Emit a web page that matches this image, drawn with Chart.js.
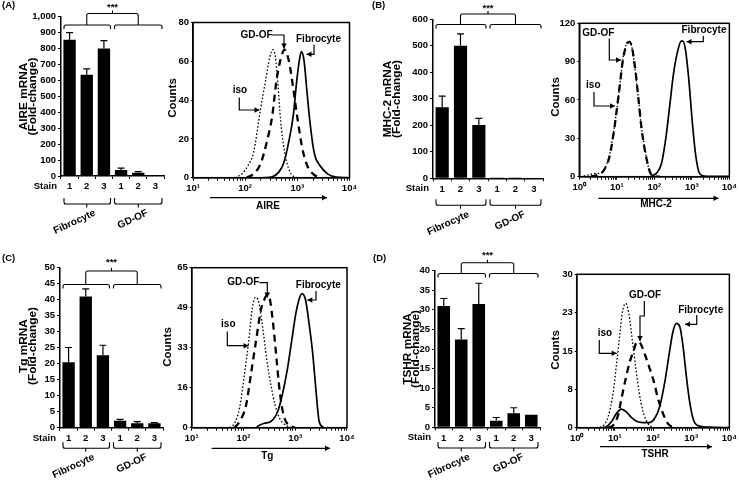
<!DOCTYPE html>
<html>
<head>
<meta charset="utf-8">
<script src="https://cdn.jsdelivr.net/npm/chart.js@4.4.1/dist/chart.umd.min.js"></script>
<style>
  body { margin: 0; background: #fff; width: 739px; height: 480px; overflow: hidden; position: relative; }
  .pane { position: absolute; left: 0; top: 0; width: 739px; height: 480px; }
</style>
</head>
<body>
<div class="pane"><canvas id="barA"></canvas></div>
<div class="pane"><canvas id="histA"></canvas></div>
<div class="pane"><canvas id="barB"></canvas></div>
<div class="pane"><canvas id="histB"></canvas></div>
<div class="pane"><canvas id="barC"></canvas></div>
<div class="pane"><canvas id="histC"></canvas></div>
<div class="pane"><canvas id="barD"></canvas></div>
<div class="pane"><canvas id="histD"></canvas></div>
<script>
// ── data ─────────────────────────────────────────
const stains = ['1', '2', '3', '1', '2', '3'];
const groups = ['Fibrocyte', 'GD-OF'];

// mRNA fold-change (mean) and upper error, per stain
const aireMrna = [855, 635, 800, 38, 20, 3];
const aireErr  = [45, 37, 50, 12, 8, 2];
const mhc2Mrna = [268, 500, 201, 0.5, 0.5, 2];
const mhc2Err  = [42, 45, 25, 0, 0, 0.5];
const tgMrna   = [20.4, 40.9, 22.6, 2.2, 1.4, 1.4];
const tgErr    = [4.6, 2.4, 3.1, 0.4, 0.5, 0.2];
const tshrMrna = [31.0, 22.4, 31.5, 1.7, 3.6, 3.2];
const tshrErr  = [1.9, 2.8, 5.3, 0.8, 1.4, 0.1];

// flow histograms [intensity, counts]
const aireIso = [[64,0],[87,2],[112,6],[145,13],[196,35],[246,50],[296,62],[340,66],[380,62],[425,48],[480,29],[555,15],[675,5],[870,0.5],[1150,0]];
const aireGd  = [[107,0],[145,2],[196,7],[263,19],[331,32],[398,50],[478,61],[570,66],[690,60],[835,46],[1000,31],[1250,15],[1560,6],[2100,1.5],[2800,0]];
const aireFib = [[225,0],[330,0.5],[445,3],[555,8],[690,19],[835,32],[975,50],[1100,61],[1200,65],[1350,60],[1510,46],[1740,29],[2100,13],[2750,6],[3800,2],[5500,0.3],[9300,0]];

const mhc2Iso = [[1.3,0.5],[1.7,1.3],[2.6,2.6],[3.5,2.6],[4.8,6.5],[6.5,18],[8.9,42],[11.6,68],[14.7,93],[18,104],[21,106],[24.5,103],[30,86],[37,63],[45,39],[59,18],[75,4],[96,0.5],[130,0]];
const mhc2Gd  = [[2,0],[3,1.5],[4.5,5],[6.3,15],[8.6,38],[11.3,65],[14.5,91],[18,103],[21.5,105.5],[25,102],[31,84],[38,60],[46,37],[60,16],[77,3.5],[100,0.5],[140,0]];
const mhc2Fib = [[83,0.5],[113,2.6],[154,10],[200,29],[256,55],[326,81],[425,99],[520,106],[575,106],[678,99],[830,76],[1020,44],[1250,18],[1600,2.6],[2170,0.5],[3000,0.3],[10000,0.3]];

const tgIso = [[54,0],[67,1.8],[84,8],[105,22],[126,35],[147,48],[170,53],[197,51],[234,41],[280,28],[338,17.5],[410,9],[500,3.8],[655,1],[870,0]];
const tgGd  = [[67,0],[84,2.5],[112,9],[140,22],[174,35],[218,48],[252,52],[285,54],[325,52],[375,42],[435,28],[500,15],[605,4.5],[760,1],[1000,0]];
const tgFib = [[174,0],[204,1],[252,1.8],[338,2.5],[457,6.5],[563,13.4],[708,24],[850,35],[1020,46],[1180,52],[1350,54.5],[1580,52],[1820,43.5],[2180,30],[2520,15],[2900,2.5],[3530,0]];

const tshrIso = [[4.1,0],[5,0.4],[6.7,2.2],[9.1,7],[11,12.3],[13.4,18],[15.8,22.7],[19.4,24.3],[23.6,22],[29,16.8],[35.5,11.6],[43,7],[55,3.1],[74,0.8],[100,0]];
const tshrGd  = [[6.7,0],[9.1,0.5],[12.2,2.5],[14.9,5.7],[19.4,9.7],[24.6,12.9],[31.5,15.2],[38,16.8],[46.7,16.5],[60,14.5],[79,11.9],[105,9],[135,5.7],[182,2.8],[245,0.8],[370,0]];
const tshrFib = [[4.1,0],[6,0.2],[8.2,1.2],[11,2.8],[14.9,3.65],[20,3.1],[27,2],[38,1.2],[55,1],[79,1],[110,1.8],[149,4.1],[201,8.7],[262,14.2],[333,18.8],[407,20.4],[500,19.8],[605,16.2],[740,10.3],[910,5.1],[1150,1.5],[1660,0.3],[3000,0.1],[10000,0]];

// tick values / labels
const countTicksA = [0, 20, 40, 60, 80];
const countTicksB = [0, 30, 60, 90, 120];
const countTicksC = [0, 16.25, 32.5, 48.75, 65];
const countLabelsC = ['0', '16', '33', '49', '65'];
const countTicksD = [0, 7.5, 15, 22.5, 30];
const countLabelsD = ['0', '8', '15', '23', '30'];
const decadeLabels = { 1: '10\u2070', 10: '10\u00b9', 100: '10\u00b2', 1000: '10\u00b3', 10000: '10\u2074' };

// ── setup ───────────────────────────────────────
Chart.defaults.font.family = '"Liberation Sans", Arial, Helvetica, sans-serif';
Chart.defaults.font.weight = 'bold';
Chart.defaults.font.size = 9.5;
Chart.defaults.color = '#000';
Chart.defaults.animation = false;
Chart.defaults.plugins.legend.display = false;
Chart.defaults.plugins.tooltip.enabled = false;

const W = 739, H = 480, AXIS_W = 30, AXIS_H = 20;
const font = s => 'bold ' + s + 'px "Liberation Sans", Arial, sans-serif';

function padFor(a) {
  return { left: a.l - AXIS_W, top: a.t, right: W - a.r, bottom: H - a.b - AXIS_H };
}

// text helper; stretch widens the text along its own direction
function label(ctx, s, x, y, size, align, rot, base, stretch) {
  ctx.save();
  ctx.font = font(size || 10);
  ctx.fillStyle = '#000';
  ctx.textAlign = align || 'center';
  ctx.textBaseline = base || 'middle';
  ctx.translate(x, y);
  if (rot) ctx.rotate(rot);
  if (stretch) ctx.scale(stretch, 1);
  ctx.fillText(s, 0, 0);
  ctx.restore();
}

function arrow(ctx, pts, lw) {
  ctx.save();
  ctx.strokeStyle = '#000';
  ctx.fillStyle = '#000';
  ctx.lineWidth = lw || 1.2;
  ctx.beginPath();
  pts.forEach((p, i) => i ? ctx.lineTo(p[0], p[1]) : ctx.moveTo(p[0], p[1]));
  ctx.stroke();
  const [x0, y0] = pts[pts.length - 2], [x1, y1] = pts[pts.length - 1];
  const a = Math.atan2(y1 - y0, x1 - x0), s = 5, w = 2.8;
  ctx.beginPath();
  ctx.moveTo(x1, y1);
  ctx.lineTo(x1 - s * Math.cos(a) + w * Math.sin(a), y1 - s * Math.sin(a) - w * Math.cos(a));
  ctx.lineTo(x1 - s * Math.cos(a) - w * Math.sin(a), y1 - s * Math.sin(a) + w * Math.cos(a));
  ctx.closePath();
  ctx.fill();
  ctx.restore();
}

// horizontal bracket with legs (leg>0 goes down) and a middle tick
function bracket(ctx, x1, xm, x2, y, leg, tick) {
  const r = 2 * Math.sign(leg);
  ctx.beginPath();
  ctx.moveTo(x1, y + leg);
  ctx.lineTo(x1, y + r);
  ctx.quadraticCurveTo(x1, y, x1 + 2, y);
  ctx.lineTo(x2 - 2, y);
  ctx.quadraticCurveTo(x2, y, x2, y + r);
  ctx.lineTo(x2, y + leg);
  ctx.moveTo(xm, y);
  ctx.lineTo(xm, y + tick);
  ctx.stroke();
}

// ── bar panels ──────────────────────────────────
function makeBar(id, p) {
  const decor = {
    id: 'barDecor',
    afterDatasetsDraw(chart) {
      const ctx = chart.ctx, xs = chart.scales.x, ys = chart.scales.y;
      const meta = chart.getDatasetMeta(0);
      ctx.save();
      ctx.strokeStyle = '#000';
      ctx.lineWidth = 1.2;
      p.values.forEach((v, i) => {
        const x = meta.data[i].x;
        const y0 = ys.getPixelForValue(v), y1 = ys.getPixelForValue(v + p.errors[i]);
        if (y0 - y1 < 0.5) return;
        ctx.beginPath();
        ctx.moveTo(x, y0); ctx.lineTo(x, y1);
        ctx.moveTo(x - 3.5, y1); ctx.lineTo(x + 3.5, y1);
        ctx.stroke();
      });

      const c = i => xs.getPixelForValue(i);
      const hw = (c(1) - c(0)) / 2;
      const fib = [c(0) - hw + 3, c(1), c(2) + hw - 2];
      const gd = [c(3) - hw + 2, c(4), c(5) + hw - 2];
      ctx.lineWidth = 1.1;
      // significance brackets on top
      bracket(ctx, fib[0], fib[1], fib[2], p.lowerY, 4, -3.5);
      bracket(ctx, gd[0], gd[1], gd[2], p.lowerY, 4, -3.5);
      const mid = (fib[1] + gd[1]) / 2;
      bracket(ctx, fib[1], mid, gd[1], p.upperY, p.lowerY - 3.5 - p.upperY, -3);
      label(ctx, '***', mid, p.starY, 9.5);
      // group brackets below the axis
      const by = chart.chartArea.bottom + p.groupDy;
      bracket(ctx, fib[0], fib[1], fib[2], by, -6, 3.5);
      bracket(ctx, gd[0], gd[1], gd[2], by, -6, 3.5);
      const rot = -25 * Math.PI / 180;
      label(ctx, groups[0], fib[1] + 6, by + 4, 10, 'right', rot, 'top');
      label(ctx, groups[1], gd[1] + 7, by + 4, 10, 'right', rot, 'top');
      label(ctx, 'Stain', chart.chartArea.left - 4, chart.chartArea.bottom + 10.5, 9.5, 'right');
      // y title and panel letter
      label(ctx, p.title[0], p.titleX[0], p.titleY, 10, 'center', -Math.PI / 2, 'middle', 1.18);
      label(ctx, p.title[1], p.titleX[1], p.titleY, 10, 'center', -Math.PI / 2, 'middle', 1.18);
      label(ctx, p.panel, p.panelXY[0], p.panelXY[1], 9.5, 'left');
      ctx.restore();
    }
  };

  return new Chart(document.getElementById(id), {
    type: 'bar',
    data: {
      labels: stains,
      datasets: [{
        data: p.values,
        backgroundColor: '#000',
        borderWidth: 0,
        barPercentage: 0.72,
        categoryPercentage: 1
      }]
    },
    options: {
      responsive: true,
      maintainAspectRatio: false,
      layout: { padding: padFor(p.area) },
      scales: {
        x: {
          offset: true,
          grid: { offset: true, drawOnChartArea: false, tickLength: 3, color: '#000' },
          border: { color: '#000', width: 1.5 },
          ticks: { padding: 2 },
          afterFit: s => { s.height = AXIS_H; }
        },
        y: {
          min: 0,
          max: p.max,
          grid: { drawOnChartArea: false, tickLength: 3, color: '#000' },
          border: { color: '#000', width: 1.5 },
          ticks: { stepSize: p.step, padding: 2 },
          afterFit: s => { s.width = AXIS_W; }
        }
      }
    },
    plugins: [decor]
  });
}

// ── histogram panels ────────────────────────────
function logTicks(min, max) {
  const t = [];
  for (let d = min; d < max; d *= 10) {
    for (let k = 1; k < 10; k++) t.push({ value: d * k });
  }
  t.push({ value: max });
  return t;
}

function makeHist(id, p) {
  const decor = {
    id: 'histDecor',
    afterDraw(chart) {
      const ctx = chart.ctx, a = chart.chartArea;
      ctx.save();
      ctx.strokeStyle = '#000';
      ctx.lineWidth = 1.5;
      ctx.strokeRect(a.left, a.top, a.right - a.left, a.bottom - a.top);
      p.notes.forEach(n => {
        label(ctx, n.text, n.x, n.y, 10);
        arrow(ctx, n.path);
      });
      arrow(ctx, p.axisArrow, 1.3);
      label(ctx, p.xTitle, p.xTitleXY[0], p.xTitleXY[1], 10);
      label(ctx, 'Counts', p.countsXY[0], p.countsXY[1], 10, 'center', -Math.PI / 2, 'middle', 1.15);
      ctx.restore();
    }
  };

  const line = { pointRadius: 0, fill: false, borderColor: '#000', cubicInterpolationMode: 'monotone' };
  return new Chart(document.getElementById(id), {
    type: 'line',
    data: {
      datasets: [
        Object.assign({ label: 'iso', data: p.iso, borderWidth: 1.3, borderDash: [1.6, 2] }, line),
        Object.assign({ label: 'GD-OF', data: p.gd, borderWidth: 2.3, borderDash: [7, 5] }, line),
        Object.assign({ label: 'Fibrocyte', data: p.fib, borderWidth: 1.7 }, line)
      ]
    },
    options: {
      responsive: true,
      maintainAspectRatio: false,
      layout: { padding: padFor(p.area) },
      scales: {
        x: {
          type: 'logarithmic',
          min: p.xmin,
          max: 10000,
          afterBuildTicks: s => { s.ticks = logTicks(p.xmin, 10000); },
          grid: { drawOnChartArea: false, tickLength: 3, color: '#000' },
          border: { color: '#000', width: 1.5 },
          ticks: {
            autoSkip: false, maxRotation: 0, minRotation: 0, padding: 2,
            callback: v => decadeLabels[v] || ''
          },
          afterFit: s => { s.height = AXIS_H; }
        },
        y: {
          min: 0,
          max: p.yTicks[p.yTicks.length - 1],
          afterBuildTicks: s => { s.ticks = p.yTicks.map(v => ({ value: v })); },
          grid: { drawOnChartArea: false, tickLength: 2, color: '#000' },
          border: { color: '#000', width: 1.5 },
          ticks: {
            padding: 2,
            callback: (v, i) => p.yLabels ? p.yLabels[i] : String(v)
          },
          afterFit: s => { s.width = AXIS_W; }
        }
      }
    },
    plugins: [decor]
  });
}

// ── build ───────────────────────────────────────
makeBar('barA', {
  values: aireMrna, errors: aireErr, max: 1000, step: 100,
  area: { l: 61, t: 16.7, r: 164, b: 176 },
  lowerY: 25, upperY: 13.5, starY: 7.5, groupDy: 28,
  title: ['AIRE mRNA', '(Fold-change)'], titleX: [24.5, 33.5], titleY: 96.5,
  panel: '(A)', panelXY: [2, 5.5]
});
makeBar('barB', {
  values: mhc2Mrna, errors: mhc2Err, max: 600, step: 100,
  area: { l: 433, t: 19.3, r: 543, b: 178.3 },
  lowerY: 24.5, upperY: 14, starY: 8.3, groupDy: 27,
  title: ['MHC-2 mRNA', '(Fold-change)'], titleX: [388.5, 397.5], titleY: 99,
  panel: '(B)', panelXY: [372, 5.5]
});
makeBar('barC', {
  values: tgMrna, errors: tgErr, max: 50, step: 5,
  area: { l: 60, t: 267.3, r: 163, b: 427.7 },
  lowerY: 284.5, upperY: 271, starY: 262.5, groupDy: 20.5,
  title: ['Tg mRNA', '(Fold-change)'], titleX: [24.5, 33.5], titleY: 346,
  panel: '(C)', panelXY: [2, 258.5]
});
makeBar('barD', {
  values: tshrMrna, errors: tshrErr, max: 40, step: 5,
  area: { l: 435, t: 270.7, r: 540, b: 427.3 },
  lowerY: 273.5, upperY: 262.7, starY: 255.5, groupDy: 20.7,
  title: ['TSHR mRNA', '(Fold-change)'], titleX: [408, 416.7], titleY: 349,
  panel: '(D)', panelXY: [373, 258.5]
});

makeHist('histA', {
  iso: aireIso, gd: aireGd, fib: aireFib, xmin: 10,
  yTicks: countTicksA,
  area: { l: 193, t: 22.5, r: 349.5, b: 177.7 },
  notes: [
    { text: 'GD-OF', x: 256.5, y: 35, path: [[272, 35], [284, 35], [284, 48.5]] },
    { text: 'Fibrocyte', x: 318.5, y: 39, path: [[314, 44.5], [314, 54.3], [306.5, 54.3]] },
    { text: 'iso', x: 240, y: 90, path: [[239.3, 97.5], [239.3, 110], [259.5, 110]] }
  ],
  axisArrow: [[210, 197.7], [327, 197.7]],
  xTitle: 'AIRE', xTitleXY: [268, 206.5],
  countsXY: [173.3, 98]
});
makeHist('histB', {
  iso: mhc2Iso, gd: mhc2Gd, fib: mhc2Fib, xmin: 1,
  yTicks: countTicksB,
  area: { l: 579.3, t: 23.3, r: 731, b: 176.7 },
  notes: [
    { text: 'GD-OF', x: 598.3, y: 33.3, path: [[609.3, 38.5], [609.3, 60], [621, 60]] },
    { text: 'Fibrocyte', x: 704, y: 30.7, path: [[703.3, 36], [703.3, 41.7], [686.5, 41.7]] },
    { text: 'iso', x: 593.3, y: 85, path: [[594, 92], [594, 106], [615, 106]] }
  ],
  axisArrow: [[598.3, 198.3], [718.5, 198.3]],
  xTitle: 'MHC-2', xTitleXY: [656, 204],
  countsXY: [556, 97]
});
makeHist('histC', {
  iso: tgIso, gd: tgGd, fib: tgFib, xmin: 10,
  yTicks: countTicksC, yLabels: countLabelsC,
  area: { l: 191.7, t: 267.7, r: 347, b: 427.7 },
  notes: [
    { text: 'GD-OF', x: 243.3, y: 282.7, path: [[259.5, 282.7], [267.3, 282.7], [267.3, 297.5]] },
    { text: 'Fibrocyte', x: 318.3, y: 285.7, path: [[316, 291], [316, 300], [307.3, 300]] },
    { text: 'iso', x: 228.3, y: 324.3, path: [[227.3, 331.5], [227.3, 345.7], [248.5, 345.7]] }
  ],
  axisArrow: [[211.7, 448.3], [330, 448.3]],
  xTitle: 'Tg', xTitleXY: [267.3, 456],
  countsXY: [168.3, 347]
});
makeHist('histD', {
  iso: tshrIso, gd: tshrGd, fib: tshrFib, xmin: 1,
  yTicks: countTicksD, yLabels: countLabelsD,
  area: { l: 576.7, t: 274.3, r: 731, b: 427.7 },
  notes: [
    { text: 'GD-OF', x: 645, y: 295.7, path: [[644.3, 301], [644.3, 316], [640, 316], [640, 341]] },
    { text: 'Fibrocyte', x: 700.7, y: 310, path: [[696.7, 315], [696.7, 324.3], [685, 324.3]] },
    { text: 'iso', x: 605, y: 333.3, path: [[599.3, 340], [599.3, 353.3], [616.7, 353.3]] }
  ],
  axisArrow: [[600, 446.7], [712, 446.7]],
  xTitle: 'TSHR', xTitleXY: [655, 454],
  countsXY: [556, 350]
});
</script>
</body>
</html>
